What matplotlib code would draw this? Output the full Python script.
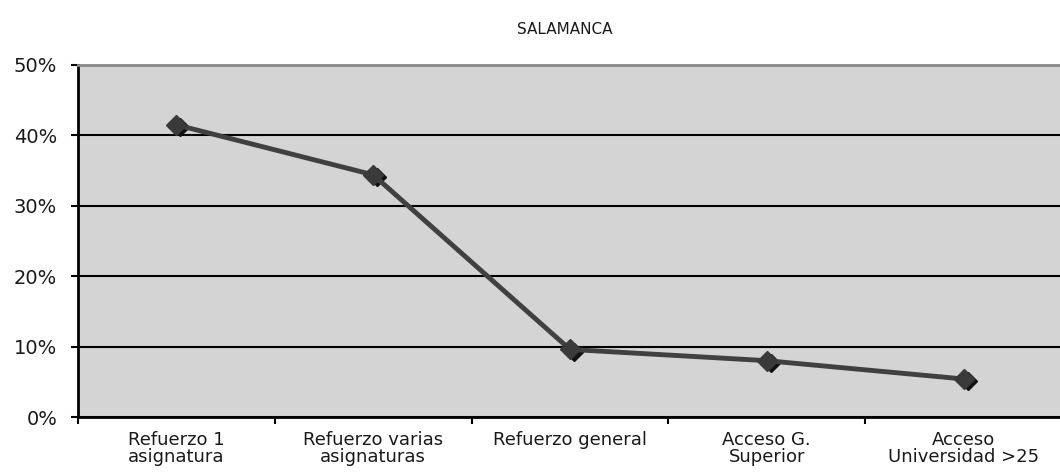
import numpy as np
import matplotlib.pyplot as plt
from matplotlib.ticker import PercentFormatter

categories = ['Refuerzo 1\nasignatura', 'Refuerzo varias\nasignaturas', 'Refuerzo general',
              'Acceso G.\nSuperior', 'Acceso\nUniversidad >25']
values = [41.5, 34.4, 9.6, 8.0, 5.4]

fig = plt.figure(figsize=(10.6, 4.73), dpi=100)
ax = fig.add_axes([78 / 1060, 1 - 417 / 473, 984 / 1060, 352 / 473])
ax.set_facecolor('#d4d4d4')

x = np.arange(len(categories))
# shadow under the markers
ax.plot(x + 0.02, np.array(values) - 0.3, linestyle='none', marker='D', markersize=9,
        color='#111111', zorder=3)
ax.plot(x, values, color='#404040', linewidth=3.5, marker='D', markersize=10,
        markerfacecolor='#3a3a3a', markeredgecolor='#3a3a3a', zorder=4)

ax.set_xlim(-0.5, len(categories) - 0.5)
ax.set_ylim(0, 50)
ax.set_yticks(np.arange(0, 51, 10))
ax.yaxis.set_major_formatter(PercentFormatter(decimals=0))
ax.grid(axis='y', color='black', linewidth=1.5)
ax.set_axisbelow(True)

ax.set_xticks(np.arange(len(categories) + 1) - 0.5)
ax.set_xticklabels([])
ax.set_xticks(x, minor=True)
ax.set_xticklabels(categories, minor=True, fontsize=13, linespacing=0.95, color='#1a1a1a')
ax.tick_params(axis='x', which='minor', length=0, pad=10)
ax.tick_params(axis='x', which='major', length=5, width=1.5)
ax.tick_params(axis='y', length=5, width=1.5, labelsize=14, pad=10, labelcolor='#1a1a1a')

ax.spines['left'].set_linewidth(2)
ax.spines['bottom'].set_linewidth(2)
ax.spines['top'].set_color('#888888')
ax.spines['top'].set_linewidth(2)
ax.spines['right'].set_visible(False)

fig.text(565 / 1060, 1 - 30 / 473, 'SALAMANCA', ha='center', va='center', fontsize=11,
         color='#1a1a1a')

fig.savefig('out.png', dpi=100)
